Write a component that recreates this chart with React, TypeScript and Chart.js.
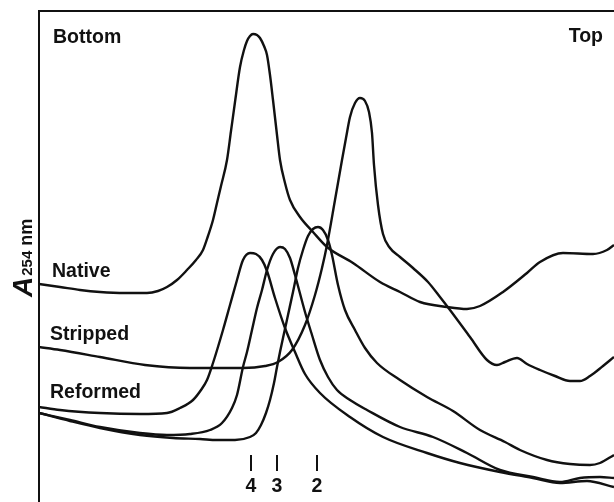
import React, { useEffect, useRef } from 'react';
import { Chart, registerables } from 'chart.js';

Chart.register(...registerables);

// x: position in gradient (arbitrary units, bottom -> top), y: A254 (arbitrary units)
const nativeTrace: [number, number][] = [
  [0, 0.436], [4.2, 0.43], [8.2, 0.424], [12.2, 0.42], [17.2, 0.418], [21.6, 0.418], [23.8, 0.422],
  [25.6, 0.43], [27.6, 0.444], [29.6, 0.464], [31.4, 0.484], [32.8, 0.504], [33.8, 0.532], [34.8, 0.564],
  [35.6, 0.598], [36.4, 0.632], [37.6, 0.684], [38.4, 0.742], [39.2, 0.8], [40.2, 0.87], [41.0, 0.904],
  [41.6, 0.922], [42.2, 0.932], [42.8, 0.936], [43.6, 0.934], [44.2, 0.928], [45.0, 0.912], [45.6, 0.894],
  [46.2, 0.854], [46.8, 0.804], [47.6, 0.734], [48.2, 0.684], [49.2, 0.638], [50.2, 0.604], [52.2, 0.57],
  [54.8, 0.54], [57.6, 0.51], [62.8, 0.478], [68.2, 0.44], [72.2, 0.42], [76.2, 0.4], [81.6, 0.39],
  [85.6, 0.386], [88.2, 0.392], [92.8, 0.42], [97.6, 0.458], [100.2, 0.48], [104.8, 0.498], [110.8, 0.496],
  [113.6, 0.504], [115, 0.514],
];

const strippedTrace: [number, number][] = [
  [0, 0.31], [4.2, 0.304], [12.2, 0.29], [21.2, 0.274], [30.2, 0.268], [40.8, 0.268], [45.2, 0.272],
  [47.8, 0.28], [50.6, 0.304], [53.2, 0.354], [55.2, 0.414], [56.6, 0.468], [57.6, 0.514], [59.2, 0.604],
  [60.6, 0.684], [61.4, 0.728], [62.2, 0.77], [63.2, 0.798], [64.2, 0.808], [65.2, 0.802], [66.0, 0.78],
  [66.6, 0.738], [67.0, 0.674], [67.8, 0.594], [68.8, 0.536], [70.2, 0.508], [72.2, 0.49], [74.8, 0.468],
  [77.8, 0.44], [80.2, 0.41], [82.2, 0.384], [86.2, 0.33], [89.6, 0.284], [91.6, 0.274], [93.2, 0.28],
  [95.6, 0.288], [97.6, 0.276], [100.2, 0.264], [103.2, 0.252], [106.2, 0.242], [108.2, 0.242],
  [110.2, 0.252], [112.8, 0.272], [115, 0.29],
];

const reformedTrace: [number, number][] = [
  [0, 0.19], [4.2, 0.184], [12.2, 0.178], [20.2, 0.176], [25.6, 0.178], [28.2, 0.188], [30.8, 0.204],
  [32.4, 0.224], [33.6, 0.244], [34.8, 0.278], [36.8, 0.344], [38.2, 0.394], [39.6, 0.444], [40.8, 0.484],
  [42.2, 0.498], [43.4, 0.496], [44.6, 0.484], [45.6, 0.462], [47.2, 0.408], [49.2, 0.348], [51.2, 0.3],
  [53.2, 0.256], [56.2, 0.218], [62.2, 0.17], [68.8, 0.13], [77.6, 0.098], [84.2, 0.078], [92.2, 0.06],
  [98.8, 0.048], [104.2, 0.038], [109.6, 0.042], [115, 0.03],
];

const marker3Trace: [number, number][] = [
  [0, 0.178], [6.2, 0.164], [12.2, 0.15], [20.2, 0.138], [25.6, 0.134], [30.2, 0.136], [34.2, 0.144],
  [36.6, 0.158], [38.6, 0.188], [39.6, 0.214], [40.8, 0.27], [41.6, 0.3], [42.6, 0.344], [43.6, 0.388],
  [44.6, 0.424], [45.6, 0.464], [46.8, 0.496], [48.2, 0.51], [49.2, 0.506], [50.2, 0.488], [51.2, 0.454],
  [53.2, 0.38], [54.6, 0.334], [56.2, 0.284], [57.8, 0.25], [59.6, 0.224], [62.2, 0.204], [65.6, 0.184],
  [72.2, 0.15], [78.8, 0.13], [85.6, 0.098], [92.2, 0.064], [98.8, 0.05], [104.2, 0.04], [108.2, 0.048],
  [112.2, 0.05], [115, 0.048],
];

const marker2Trace: [number, number][] = [
  [0, 0.178], [6.2, 0.162], [12.2, 0.148], [20.2, 0.134], [26.8, 0.128], [32.2, 0.126], [35.6, 0.124],
  [39.2, 0.124], [42.2, 0.13], [43.4, 0.138], [44.4, 0.154], [45.4, 0.178], [46.2, 0.204], [47.0, 0.238],
  [47.6, 0.27], [48.2, 0.3], [48.8, 0.328], [49.8, 0.374], [50.8, 0.42], [51.8, 0.468], [52.8, 0.504],
  [53.8, 0.532], [54.8, 0.546], [55.8, 0.55], [56.8, 0.544], [57.8, 0.524], [58.6, 0.494], [59.8, 0.434],
  [61.2, 0.384], [63.2, 0.344], [65.2, 0.308], [67.6, 0.278], [72.2, 0.244], [77.6, 0.21], [82.8, 0.182],
  [88.2, 0.144], [93.2, 0.12], [96.2, 0.104], [101.6, 0.084], [106.2, 0.076], [110.2, 0.074],
  [112.2, 0.078], [115, 0.094],
];

const fractionTickValues = [42.4, 47.6, 55.6];
const fractionTickLabels = ['4', '3', '2'];
const traceLabels = ['Native', 'Stripped', 'Reformed'];
const endLabels = ['Bottom', 'Top'];
const yTitle = { main: 'A', sub: '254', unit: 'nm' };

export default function App() {
  const ref = useRef<HTMLCanvasElement>(null);

  useEffect(() => {
    const canvas = ref.current;
    if (!canvas) return;
    const ink = '#111';
    const font = 'bold 19.5px "Liberation Sans", Arial, sans-serif';

    const ds = (t: [number, number][]) => ({
      data: t.map(([x, y]) => ({ x, y })),
      borderColor: ink,
      borderWidth: 2.4,
      pointRadius: 0,
      fill: false,
      cubicInterpolationMode: 'monotone' as const,
    });

    const decor = {
      id: 'decor',
      afterDraw(chart: any) {
        const c = chart.ctx as CanvasRenderingContext2D;
        const { left, top, right, bottom } = chart.chartArea;
        const xs = chart.scales.x;
        const ys = chart.scales.y;
        c.save();
        c.strokeStyle = ink;
        c.fillStyle = ink;
        c.lineWidth = 2;
        // frame
        c.beginPath();
        c.moveTo(left, bottom);
        c.lineTo(left, top);
        c.lineTo(right, top);
        c.stroke();

        c.font = font;
        c.textBaseline = 'alphabetic';
        c.textAlign = 'left';
        c.fillText(endLabels[0], xs.getPixelForValue(2.8), ys.getPixelForValue(0.918));
        c.textAlign = 'right';
        c.fillText(endLabels[1], xs.getPixelForValue(112.8), ys.getPixelForValue(0.92));
        c.textAlign = 'left';
        c.fillText(traceLabels[0], xs.getPixelForValue(2.6), ys.getPixelForValue(0.45));
        c.fillText(traceLabels[1], xs.getPixelForValue(2.2), ys.getPixelForValue(0.324));
        c.fillText(traceLabels[2], xs.getPixelForValue(2.2), ys.getPixelForValue(0.208));

        // fraction markers
        c.textAlign = 'center';
        fractionTickValues.forEach((v, i) => {
          const px = Math.round(xs.getPixelForValue(v));
          c.beginPath();
          c.moveTo(px, ys.getPixelForValue(0.094));
          c.lineTo(px, ys.getPixelForValue(0.062));
          c.stroke();
          c.fillText(fractionTickLabels[i], px, ys.getPixelForValue(0.02));
        });

        // y title
        c.save();
        c.translate(32, ys.getPixelForValue(0.41));
        c.rotate(-Math.PI / 2);
        c.textAlign = 'left';
        c.font = 'italic bold 28px "Liberation Sans", Arial, sans-serif';
        c.fillText(yTitle.main, 0, 0);
        let w = c.measureText(yTitle.main).width;
        c.font = 'bold 15px "Liberation Sans", Arial, sans-serif';
        c.fillText(yTitle.sub, w + 1, 0);
        w += 1 + c.measureText(yTitle.sub).width + 5;
        c.font = 'bold 18px "Liberation Sans", Arial, sans-serif';
        c.fillText(yTitle.unit, w, 0);
        c.restore();

        c.restore();
      },
    };

    const chart = new Chart(canvas, {
      type: 'line',
      data: {
        datasets: [
          ds(nativeTrace),
          ds(strippedTrace),
          ds(reformedTrace),
          ds(marker3Trace),
          ds(marker2Trace),
        ],
      },
      options: {
        responsive: false,
        animation: false,
        devicePixelRatio: 1,
        layout: { padding: { left: 39, top: 11, right: 0, bottom: 0 } },
        plugins: { legend: { display: false }, tooltip: { enabled: false } },
        scales: {
          x: { type: 'linear', display: false, min: 0, max: 115 },
          y: { type: 'linear', display: false, min: 0, max: 0.982 },
        },
      },
      plugins: [decor],
    });
    return () => chart.destroy();
  }, []);

  return (
    <div style={{ position: 'absolute', left: 0, top: 0, width: 614, height: 502, background: '#fff' }}>
      <canvas ref={ref} width={614} height={502} style={{ display: 'block' }} />
    </div>
  );
}
